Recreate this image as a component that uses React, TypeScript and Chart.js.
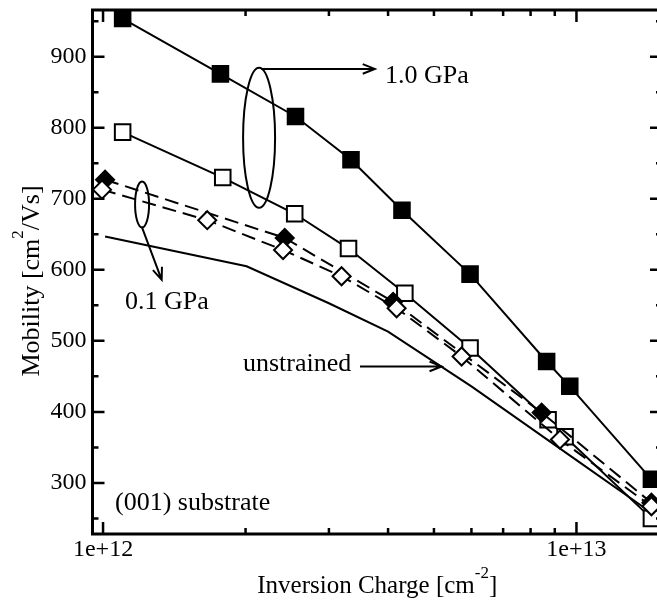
import React, { useEffect, useRef } from "react";
import { Chart, registerables } from "chart.js";

Chart.register(...registerables);

const SERIF = "'Liberation Serif', 'Times New Roman', Times, serif";

// Inversion charge [cm^-2] and mobility [cm^2/Vs]
const gpa10FilledCharge = [1.1e12, 1.77e12, 2.55e12, 3.34e12, 4.28e12, 5.96e12, 8.65e12, 9.68e12, 1.44e13];
const gpa10FilledMobility = [954, 876, 816, 755, 684, 594, 471, 436, 305];
const gpa10OpenCharge = [1.1e12, 1.79e12, 2.54e12, 3.3e12, 4.34e12, 5.96e12, 8.71e12, 9.46e12, 1.44e13];
const gpa10OpenMobility = [794, 730, 679, 630, 567, 490, 389, 365, 250];
const gpa01FilledCharge = [1.01e12, 2.42e12, 4.1e12, 8.44e12, 1.44e13];
const gpa01FilledMobility = [727, 645, 555, 399, 272];
const gpa01OpenCharge = [0.995e12, 1.66e12, 2.4e12, 3.19e12, 4.17e12, 5.72e12, 9.23e12, 1.44e13];
const gpa01OpenMobility = [713, 670, 628, 591, 546, 478, 361, 267];
const unstrainedCharge = [1.01e12, 2.01e12, 3e12, 4e12, 6e12, 1e13, 1.44e13];
const unstrainedMobility = [647, 605, 553, 513, 436, 332, 258];

// Axes
const X_MIN = 9.5e11;
const X_MAX = 1.516e13;
const Y_MIN = 228;
const Y_MAX = 966;
const xMajorTicks = [1e12, 1e13];
const xMajorLabels = ["1e+12", "1e+13"];
const xMinorTicks = [2e12, 3e12, 4e12, 5e12, 6e12, 7e12, 8e12, 9e12];
const yMajorTicks = [300, 400, 500, 600, 700, 800, 900];
const yMinorTicks = [250, 350, 450, 550, 650, 750, 850, 950];

const X_TITLE = [{ t: "Inversion Charge [cm" }, { t: "-2", sup: true }, { t: "]" }];
const Y_TITLE = [{ t: "Mobility [cm" }, { t: "2", sup: true }, { t: "/Vs]" }];

// Annotation anchors in data coordinates
const ANN = {
  bigEllipse: { x: 2.136e12, y: 786, rx: 16, ry: 70 },
  bigArrow: { x0: 2.16e12, x1: 3.75e12, y: 883 },
  bigText: { x: 3.94e12, y: 873, text: "1.0 GPa" },
  smallEllipse: { x: 1.209e12, y: 692, rx: 7, ry: 23 },
  smallArrow: { x0: 1.207e12, y0: 661, x1: 1.33e12, y1: 586 },
  smallText: { x: 1.113e12, y: 555, text: "0.1 GPa" },
  unText: { x: 1.975e12, y: 467, text: "unstrained" },
  unArrow: { x0: 3.49e12, x1: 5.19e12, y: 464 },
  subText: { x: 1.06e12, y: 272, text: "(001) substrate" },
};

function pts(xs: number[], ys: number[]) {
  return xs.map((x, i) => ({ x, y: ys[i] }));
}

function drawRich(
  ctx: CanvasRenderingContext2D,
  parts: any[],
  x: number,
  y: number,
  rotate: boolean,
  size: number,
  supSize: number,
  raise: number
) {
  ctx.save();
  ctx.translate(x, y);
  if (rotate) ctx.rotate(-Math.PI / 2);
  const fontOf = (p: any) => `${p.sup ? supSize : size}px ${SERIF}`;
  const widths = parts.map((p) => {
    ctx.font = fontOf(p);
    return ctx.measureText(p.t).width;
  });
  const total = widths.reduce((a, b) => a + b, 0);
  let cx = -total / 2;
  ctx.textBaseline = "alphabetic";
  ctx.textAlign = "left";
  ctx.fillStyle = "#000";
  parts.forEach((p, i) => {
    ctx.font = fontOf(p);
    ctx.fillText(p.t, cx, p.sup ? -raise : 0);
    cx += widths[i];
  });
  ctx.restore();
}

function arrow(ctx: CanvasRenderingContext2D, x0: number, y0: number, x1: number, y1: number) {
  const a = Math.atan2(y1 - y0, x1 - x0);
  const L = 13;
  const w = 0.38;
  ctx.beginPath();
  ctx.moveTo(x0, y0);
  ctx.lineTo(x1, y1);
  ctx.moveTo(x1 - L * Math.cos(a - w), y1 - L * Math.sin(a - w));
  ctx.lineTo(x1, y1);
  ctx.lineTo(x1 - L * Math.cos(a + w), y1 - L * Math.sin(a + w));
  ctx.stroke();
}

const framePlugin = {
  id: "frameAndNotes",
  afterDraw(chart: any) {
    const { ctx, chartArea: a, scales } = chart;
    const xs = scales.x;
    const ys = scales.y;
    ctx.save();
    ctx.strokeStyle = "#000";
    ctx.fillStyle = "#000";
    ctx.lineCap = "butt";
    // inward ticks on all four sides
    ctx.lineWidth = 2.5;
    ctx.beginPath();
    const xt = [...xMajorTicks.map((v) => [v, 12]), ...xMinorTicks.map((v) => [v, 6])];
    xt.forEach(([v, len]) => {
      const px = xs.getPixelForValue(v);
      ctx.moveTo(px, a.bottom);
      ctx.lineTo(px, a.bottom - len);
      ctx.moveTo(px, a.top);
      ctx.lineTo(px, a.top + len);
    });
    const yt = [...yMajorTicks.map((v) => [v, 12]), ...yMinorTicks.map((v) => [v, 6])];
    yt.forEach(([v, len]) => {
      const py = ys.getPixelForValue(v);
      ctx.moveTo(a.left, py);
      ctx.lineTo(a.left + len, py);
      ctx.moveTo(a.right, py);
      ctx.lineTo(a.right - len, py);
    });
    ctx.stroke();
    // frame
    ctx.lineWidth = 3;
    ctx.strokeRect(a.left, a.top, a.right - a.left, a.bottom - a.top);

    // titles
    drawRich(ctx, X_TITLE, (a.left + a.right) / 2, 593, false, 25, 17, 15);
    drawRich(ctx, Y_TITLE, 39, (a.top + a.bottom) / 2 + 9, true, 26, 17, 16);

    // annotations
    ctx.lineWidth = 2;
    const e1 = ANN.bigEllipse;
    ctx.beginPath();
    ctx.ellipse(xs.getPixelForValue(e1.x), ys.getPixelForValue(e1.y), e1.rx, e1.ry, 0, 0, Math.PI * 2);
    ctx.stroke();
    const b = ANN.bigArrow;
    arrow(ctx, xs.getPixelForValue(b.x0), ys.getPixelForValue(b.y), xs.getPixelForValue(b.x1), ys.getPixelForValue(b.y));
    const e2 = ANN.smallEllipse;
    ctx.beginPath();
    ctx.ellipse(xs.getPixelForValue(e2.x), ys.getPixelForValue(e2.y), e2.rx, e2.ry, 0, 0, Math.PI * 2);
    ctx.stroke();
    const s = ANN.smallArrow;
    arrow(ctx, xs.getPixelForValue(s.x0), ys.getPixelForValue(s.y0), xs.getPixelForValue(s.x1), ys.getPixelForValue(s.y1));
    const u = ANN.unArrow;
    arrow(ctx, xs.getPixelForValue(u.x0), ys.getPixelForValue(u.y), xs.getPixelForValue(u.x1), ys.getPixelForValue(u.y));

    ctx.font = `26px ${SERIF}`;
    ctx.textAlign = "left";
    ctx.textBaseline = "middle";
    [ANN.bigText, ANN.smallText, ANN.unText, ANN.subText].forEach((t) => {
      ctx.fillText(t.text, xs.getPixelForValue(t.x), ys.getPixelForValue(t.y));
    });
    ctx.restore();
  },
};

function zeroPad(sc: any) {
  sc.paddingTop = 0;
  sc.paddingBottom = 0;
  sc.paddingLeft = 0;
  sc.paddingRight = 0;
}

export default function App() {
  const ref = useRef<HTMLCanvasElement | null>(null);
  useEffect(() => {
    if (!ref.current) return;
    const base = {
      borderColor: "#000",
      borderWidth: 2,
      pointBorderColor: "#000",
      pointBorderWidth: 2,
      tension: 0,
      clip: false as any,
      fill: false,
    };
    const chart = new Chart(ref.current, {
      type: "line",
      data: {
        datasets: [
          {
            ...base,
            label: "unstrained",
            data: pts(unstrainedCharge, unstrainedMobility),
            pointRadius: 0,
            order: 5,
          },
          {
            ...base,
            label: "1.0 GPa (open)",
            data: pts(gpa10OpenCharge, gpa10OpenMobility),
            pointStyle: "rect",
            pointRadius: 11,
            pointBackgroundColor: "#fff",
            order: 4,
          },
          {
            ...base,
            label: "1.0 GPa (filled)",
            data: pts(gpa10FilledCharge, gpa10FilledMobility),
            pointStyle: "rect",
            pointRadius: 11,
            pointBackgroundColor: "#000",
            order: 3,
          },
          {
            ...base,
            label: "0.1 GPa (filled)",
            data: pts(gpa01FilledCharge, gpa01FilledMobility),
            pointStyle: "rectRot",
            pointRadius: 9,
            pointBackgroundColor: "#000",
            borderDash: [14, 7],
            order: 2,
          },
          {
            ...base,
            label: "0.1 GPa (open)",
            data: pts(gpa01OpenCharge, gpa01OpenMobility),
            pointStyle: "rectRot",
            pointRadius: 9,
            pointBackgroundColor: "#fff",
            borderDash: [14, 7],
            order: 1,
          },
        ],
      },
      options: {
        responsive: false,
        animation: false,
        devicePixelRatio: 1,
        layout: { autoPadding: false, padding: { top: 10, right: 6, left: 0, bottom: 0 } },
        plugins: { legend: { display: false }, tooltip: { enabled: false } },
        scales: {
          x: {
            type: "logarithmic",
            min: X_MIN,
            max: X_MAX,
            afterBuildTicks: (sc: any) => {
              sc.ticks = [...xMajorTicks, ...xMinorTicks].sort((p, q) => p - q).map((v) => ({ value: v }));
            },
            afterFit: (sc: any) => {
              sc.height = 66;
              zeroPad(sc);
            },
            ticks: {
              autoSkip: false,
              maxRotation: 0,
              minRotation: 0,
              padding: 1,
              color: "#000",
              font: { family: SERIF, size: 24 },
              callback: (v: any) => {
                const i = xMajorTicks.findIndex((m) => Math.abs(m - Number(v)) / m < 1e-6);
                return i >= 0 ? xMajorLabels[i] : "";
              },
            },
            grid: { display: true, drawOnChartArea: false, drawTicks: false, color: "rgba(0,0,0,0)" },
            border: { display: false },
          },
          y: {
            type: "linear",
            min: Y_MIN,
            max: Y_MAX,
            afterBuildTicks: (sc: any) => {
              sc.ticks = [...yMajorTicks, ...yMinorTicks].sort((p, q) => p - q).map((v) => ({ value: v }));
            },
            afterFit: (sc: any) => {
              sc.width = 92.5;
              zeroPad(sc);
            },
            ticks: {
              autoSkip: false,
              padding: 6,
              color: "#000",
              font: { family: SERIF, size: 24 },
              callback: (v: any) => (yMajorTicks.includes(Number(v)) ? String(v) : ""),
            },
            grid: { display: true, drawOnChartArea: false, drawTicks: false, color: "rgba(0,0,0,0)" },
            border: { display: false },
          },
        },
      },
      plugins: [framePlugin],
    });
    return () => chart.destroy();
  }, []);

  return (
    <div
      style={{
        position: "fixed",
        left: 0,
        top: 0,
        width: 657,
        height: 600,
        overflow: "hidden",
        background: "#fff",
      }}
    >
      <canvas ref={ref} width={668} height={600} style={{ display: "block" }} />
    </div>
  );
}
